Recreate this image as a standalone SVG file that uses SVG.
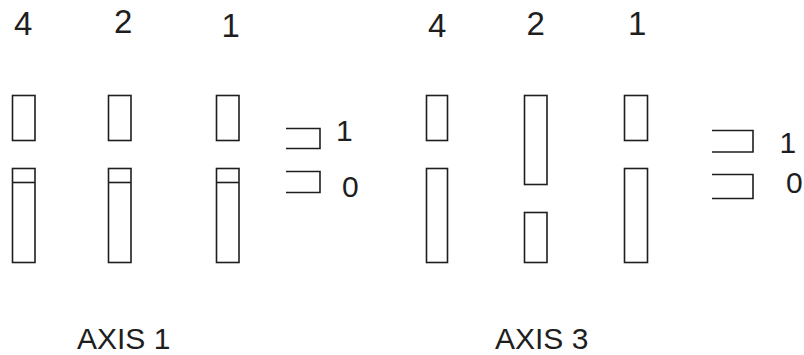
<svg xmlns="http://www.w3.org/2000/svg" width="804" height="355" viewBox="0 0 804 355">
<style>
.s{fill:none;stroke:#1e1e1e;stroke-width:1.6}
.t{font-family:"Liberation Sans",Arial,sans-serif;fill:#1e1e1e}
.big{font-size:33px}
.med{font-size:30px}
</style>
<rect width="804" height="355" fill="#fff"/>
<g id="axis1">
  <g id="a1-bit4">
    <rect class="s" x="12.5" y="95.5" width="22.5" height="45"/>
    <rect class="s" x="12.5" y="168.5" width="22.5" height="94"/>
    <line class="s" x1="12.5" y1="182.5" x2="35" y2="182.5"/>
    <text class="t big" x="14" y="35">4</text>
  </g>
  <g id="a1-bit2">
    <rect class="s" x="108.5" y="95.5" width="22.5" height="45"/>
    <rect class="s" x="108.5" y="168.5" width="22.5" height="94"/>
    <line class="s" x1="108.5" y1="182.5" x2="131" y2="182.5"/>
    <text class="t big" x="114" y="33">2</text>
  </g>
  <g id="a1-bit1">
    <rect class="s" x="216.5" y="95.5" width="22.5" height="45"/>
    <rect class="s" x="216.5" y="168.5" width="22.5" height="94"/>
    <line class="s" x1="216.5" y1="182.5" x2="239" y2="182.5"/>
    <text class="t big" x="221.5" y="37">1</text>
  </g>
  <g id="a1-legend">
    <path class="s" d="M286 128.5H320V148.5H286"/>
    <path class="s" d="M286 171.5H320V192.5H286"/>
    <text class="t med" x="336" y="141">1</text>
    <text class="t med" x="342" y="197">0</text>
  </g>
  <text id="a1-label" class="t med" x="77" y="349">AXIS 1</text>
</g>
<g id="axis3">
  <g id="a3-bit4">
    <rect class="s" x="426.5" y="95.5" width="21" height="45"/>
    <rect class="s" x="426.5" y="168.5" width="21" height="94"/>
    <text class="t big" x="428" y="36.5">4</text>
  </g>
  <g id="a3-bit2">
    <rect class="s" x="524.5" y="95.5" width="22.5" height="89"/>
    <rect class="s" x="524.5" y="212.5" width="22.5" height="50"/>
    <text class="t big" x="526.5" y="35">2</text>
  </g>
  <g id="a3-bit1">
    <rect class="s" x="624.5" y="95.5" width="23" height="45"/>
    <rect class="s" x="624.5" y="168.5" width="23" height="94"/>
    <text class="t big" x="628" y="34.5">1</text>
  </g>
  <g id="a3-legend">
    <path class="s" d="M712 130.5H753V152H712"/>
    <path class="s" d="M712 174.5H753V198.5H712"/>
    <text class="t med" x="779.5" y="152.5">1</text>
    <text class="t med" x="786" y="193">0</text>
  </g>
  <text id="a3-label" class="t med" x="495" y="349">AXIS 3</text>
</g>
<g id="connectors"/>
</svg>
